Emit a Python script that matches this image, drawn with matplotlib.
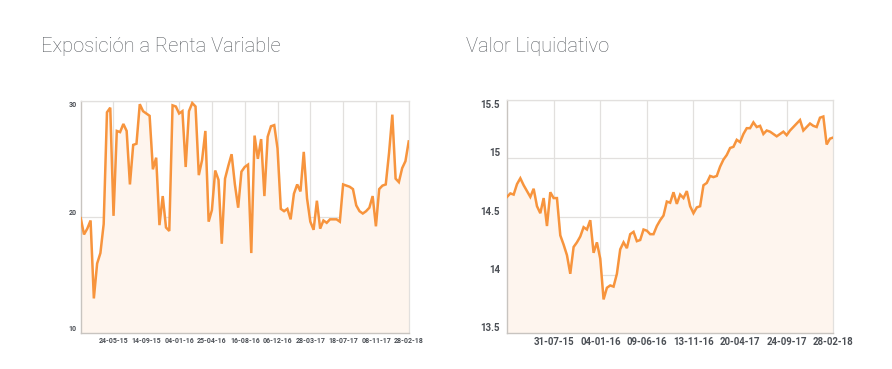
import matplotlib
matplotlib.use("Agg")
import matplotlib.pyplot as plt
import matplotlib.dates as mdates
import pandas as pd

# -----------------------------
# datos
# -----------------------------
left_title = "Exposición a Renta Variable"
right_title = "Valor Liquidativo"

left_start, left_end, left_n = "2015-02-01", "2018-02-28", 101
right_start, right_end, right_n = "2015-02-23", "2018-02-28", 99

renta_variable = [
    19.9, 18.5, 19.0, 19.7, 13.0, 16.0, 16.9, 19.4, 29.0, 29.4,
    20.1, 27.4, 27.3, 28.0, 27.4, 22.8, 26.2, 26.3, 29.7, 29.1,
    28.9, 28.7, 24.1, 25.1, 19.3, 21.8, 19.1, 18.8, 29.6, 29.5,
    28.9, 29.1, 24.3, 29.1, 29.8, 29.5, 23.6, 24.9, 27.4, 19.6,
    20.6, 24.0, 23.2, 17.7, 23.3, 24.4, 25.4, 22.8, 20.8, 23.9,
    24.3, 24.5, 16.9, 27.0, 25.0, 26.7, 21.8, 26.9, 27.8, 27.9,
    25.9, 20.7, 20.5, 20.7, 19.8, 22.0, 22.8, 22.2, 25.6, 21.6,
    19.6, 18.9, 21.4, 19.0, 19.7, 19.5, 19.8, 19.8, 19.8, 19.6,
    22.8, 22.7, 22.6, 22.4, 21.0, 20.5, 20.3, 20.5, 20.8, 21.8,
    19.2, 22.4, 22.7, 22.8, 25.5, 28.8, 23.3, 23.0, 24.2, 24.8,
    26.5,
]

valor_liquidativo = [
    14.67, 14.70, 14.69, 14.78, 14.83, 14.77, 14.72, 14.67, 14.74, 14.59,
    14.53, 14.66, 14.42, 14.71, 14.66, 14.66, 14.34, 14.26, 14.17, 14.01,
    14.24, 14.28, 14.33, 14.41, 14.39, 14.47, 14.19, 14.28, 14.14, 13.79,
    13.89, 13.91, 13.90, 14.01,
    14.22, 14.28, 14.23, 14.35, 14.37, 14.29, 14.30, 14.39, 14.38, 14.35,
    14.35, 14.42, 14.47, 14.51, 14.63, 14.62, 14.71, 14.61, 14.69, 14.66,
    14.72, 14.59, 14.53, 14.58, 14.59, 14.77, 14.79, 14.85, 14.84, 14.85,
    14.93, 14.99,
    15.03, 15.09, 15.10, 15.16, 15.14, 15.21, 15.26, 15.26, 15.31, 15.27,
    15.28, 15.21, 15.24, 15.23, 15.21, 15.19, 15.21, 15.23, 15.20, 15.24,
    15.27, 15.30, 15.33, 15.24, 15.27, 15.30, 15.28, 15.27, 15.35, 15.36,
    15.12, 15.17, 15.18,
]

left_ticks = ["2015-05-24", "2015-09-14", "2016-01-04", "2016-04-25", "2016-08-16",
              "2016-12-06", "2017-03-28", "2017-07-18", "2017-11-08", "2018-02-28"]
right_ticks = ["2015-07-31", "2016-01-04", "2016-06-09", "2016-11-13",
               "2017-04-20", "2017-09-24", "2018-02-28"]

left_yticks = [10, 20, 30]
right_yticks = [13.5, 14, 14.5, 15, 15.5]

# -----------------------------
# estilo
# -----------------------------
line_color = "#f7943d"
fill_color = "#fef5ee"
grid_color = "#e2e0de"
label_color = "#4b4f55"
title_color = "#5a5e63"
tick_font = ["Roboto", "DejaVu Sans"]
title_font = ["Roboto", "DejaVu Sans"]

fig = plt.figure(figsize=(8.92, 3.69), dpi=100)
ax1 = fig.add_axes([0.0905, 0.0967, 0.3677, 0.6304])
ax2 = fig.add_axes([0.5684, 0.0970, 0.3658, 0.6314])


def draw_panel(ax, dates, values, ticks, yticks, ylim, xsize, ysize, ypad):
    ax.fill_between(dates, values, ylim[0], color=fill_color, zorder=1)
    ax.plot(dates, values, color=line_color, lw=1.8, zorder=3,
            solid_joinstyle="miter")
    ax.set_xlim(dates[0], dates[-1])
    ax.set_ylim(*ylim)
    ax.set_xticks(pd.to_datetime(ticks))
    ax.xaxis.set_major_formatter(mdates.DateFormatter("%d-%m-%y"))
    ax.set_xticks(dates, minor=True)
    ax.set_yticks(yticks)
    ax.set_yticklabels([f"{v:g}" for v in yticks])
    ax.grid(True, which="major", color=grid_color, lw=0.9, zorder=0)
    ax.set_axisbelow(True)
    for s in ["left", "bottom"]:
        ax.spines[s].set_color("#c8c4c0")
        ax.spines[s].set_linewidth(1.0)
    for s in ["top", "right"]:
        ax.spines[s].set_color(grid_color)
        ax.spines[s].set_linewidth(0.9)
    ax.tick_params(axis="x", which="major", length=0, labelsize=xsize,
                   labelcolor=label_color, pad=2.5)
    ax.tick_params(axis="x", which="minor", direction="in", length=1.5,
                   color="#d0ccc8", width=0.6)
    ax.tick_params(axis="y", which="major", length=0, labelsize=ysize,
                   labelcolor=label_color, pad=ypad)
    for lbl in ax.get_xticklabels() + ax.get_yticklabels():
        lbl.set_fontweight("bold")
        lbl.set_family(tick_font)
    ylabels = ax.get_yticklabels()
    for lbl in ylabels[:-1]:
        lbl.set_va("bottom")
    ylabels[-1].set_va("top")


left_dates = pd.date_range(left_start, left_end, periods=left_n)
right_dates = pd.date_range(right_start, right_end, periods=right_n)

draw_panel(ax1, left_dates, renta_variable, left_ticks, left_yticks, (10, 30),
           5.0, 5.0, 3)
draw_panel(ax2, right_dates, valor_liquidativo, right_ticks, right_yticks,
           (13.5, 15.5), 6.9, 7.0, 5)

fig.text(41 / 892, 1 - 47 / 369, left_title, fontsize=14.5, color=title_color,
         family=title_font, fontweight="light", va="center", ha="left")
fig.text(466 / 892, 1 - 47 / 369, right_title, fontsize=14.5, color=title_color,
         family=title_font, fontweight="light", va="center", ha="left")

plt.savefig("out.png", dpi=100)
